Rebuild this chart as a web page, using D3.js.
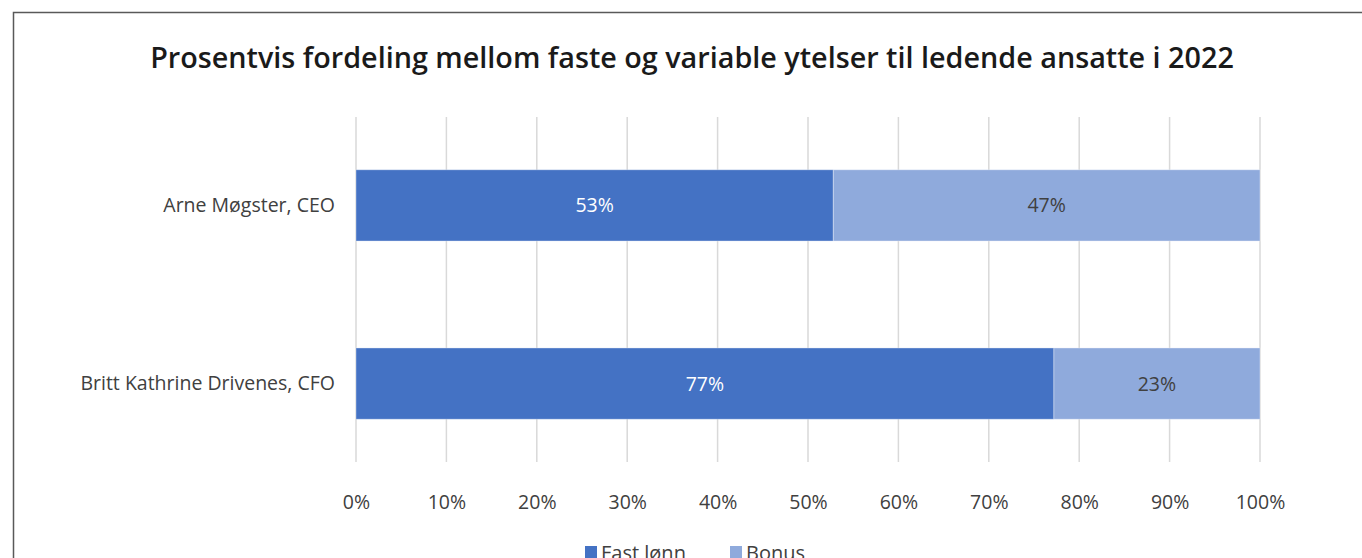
<!DOCTYPE html>
<html>
<head>
<meta charset="utf-8">
<script src="https://cdn.jsdelivr.net/npm/d3@7"></script>
<style>
  body { margin: 0; background: #fff; overflow: hidden; }
  svg { display: block; }
  .title { font-family: "Open Sans", "Noto Sans", sans-serif; font-weight: 600; font-size: 26px; fill: #1a1a1a; }
  .lbl { font-family: "Open Sans", "Noto Sans", sans-serif; font-size: 19.5px; fill: #404040; }
</style>
</head>
<body>
<svg id="chart" width="1362" height="558"></svg>
<script>
// chart data
var categories = ["Arne Møgster, CEO", "Britt Kathrine Drivenes, CFO"];
var seriesNames = ["Fast lønn", "Bonus"];
var fastLonn = [52.8, 77.2];
var bonus = [47.2, 22.8];
var tickValues = [0, 10, 20, 30, 40, 50, 60, 70, 80, 90, 100];
var colors = ["#4472c4", "#8faadc"];
var labelColors = ["#ffffff", "#404040"];

var svg = d3.select("#chart");

// outer frame (right/bottom edges are outside the window)
svg.append("rect")
    .attr("x", 13.5).attr("y", 12.5)
    .attr("width", 1400).attr("height", 600)
    .attr("fill", "#fff")
    .attr("stroke", "#595959")
    .attr("stroke-width", 1.5);

var title = svg.append("text")
    .attr("class", "title")
    .attr("x", 692).attr("y", 68)
    .attr("text-anchor", "middle")
    .text("Prosentvis fordeling mellom faste og variable ytelser til ledende ansatte i 2022");
// fit the title to the width it has in the original
var tl = title.node().getComputedTextLength();
title.style("font-size", (26 * 1084 / tl) + "px");

var x = d3.scaleLinear().domain([0, 100]).range([356, 1260]);
var y = d3.scaleBand().domain(categories).range([127, 462]).paddingInner(0.6).paddingOuter(0.24);

// gridlines
svg.append("g").selectAll("line")
    .data(tickValues)
    .join("line")
    .attr("x1", function(d){return x(d);})
    .attr("x2", function(d){return x(d);})
    .attr("y1", 117).attr("y2", 462)
    .attr("stroke", "#d9d9d9")
    .attr("stroke-width", 1.5);

// stacked bars
var rows = categories.map(function(c, i) {
    return {cat: c, "Fast lønn": fastLonn[i], "Bonus": bonus[i]};
});
var stack = d3.stack().keys(seriesNames)(rows);

var groups = svg.append("g").selectAll("g")
    .data(stack)
    .join("g");

groups.selectAll("rect")
    .data(function(s, si){ return s.map(function(d){ return {d: d, si: si}; }); })
    .join("rect")
    .attr("x", function(o){return x(o.d[0]);})
    .attr("width", function(o){return x(o.d[1]) - x(o.d[0]);})
    .attr("y", function(o){return y(o.d.data.cat);})
    .attr("height", y.bandwidth())
    .attr("fill", function(o){return colors[o.si];})
    .attr("stroke", "#ffffff")
    .attr("stroke-opacity", 0.35)
    .attr("stroke-width", 1);

groups.selectAll("text")
    .data(function(s, si){ return s.map(function(d){ return {d: d, si: si}; }); })
    .join("text")
    .attr("class", "lbl")
    .attr("x", function(o){return (x(o.d[0]) + x(o.d[1])) / 2;})
    .attr("y", function(o){return y(o.d.data.cat) + y.bandwidth() / 2;})
    .attr("dy", "0.36em")
    .attr("text-anchor", "middle")
    .style("fill", function(o){return labelColors[o.si];})
    .text(function(o){return Math.round(o.d[1] - o.d[0]) + "%";});

// category axis
var yAxis = svg.append("g")
    .attr("transform", "translate(356,0)")
    .call(d3.axisLeft(y).tickSize(0).tickPadding(21));
yAxis.select(".domain").remove();
yAxis.selectAll("text").attr("class", "lbl").attr("font-family", null).attr("font-size", null);

// value axis
var xAxis = svg.append("g")
    .attr("transform", "translate(0,502)")
    .call(d3.axisBottom(x).tickValues(tickValues).tickSize(0).tickPadding(0)
        .tickFormat(function(d){return d + "%";}));
xAxis.select(".domain").remove();
xAxis.selectAll("text").attr("class", "lbl").attr("font-family", null).attr("font-size", null).attr("dy", "0.36em");

// legend
var legX = [585, 730];
var leg = svg.append("g").selectAll("g")
    .data(seriesNames)
    .join("g")
    .attr("transform", function(d, i){return "translate(" + legX[i] + ",546)";});
leg.append("rect")
    .attr("width", 12).attr("height", 12)
    .attr("fill", function(d, i){return colors[i];});
leg.append("text")
    .attr("class", "lbl")
    .attr("x", 16).attr("y", 7)
    .attr("dy", "0.36em")
    .style("font-size", "20px")
    .text(function(d){return d;});
</script>
</body>
</html>
